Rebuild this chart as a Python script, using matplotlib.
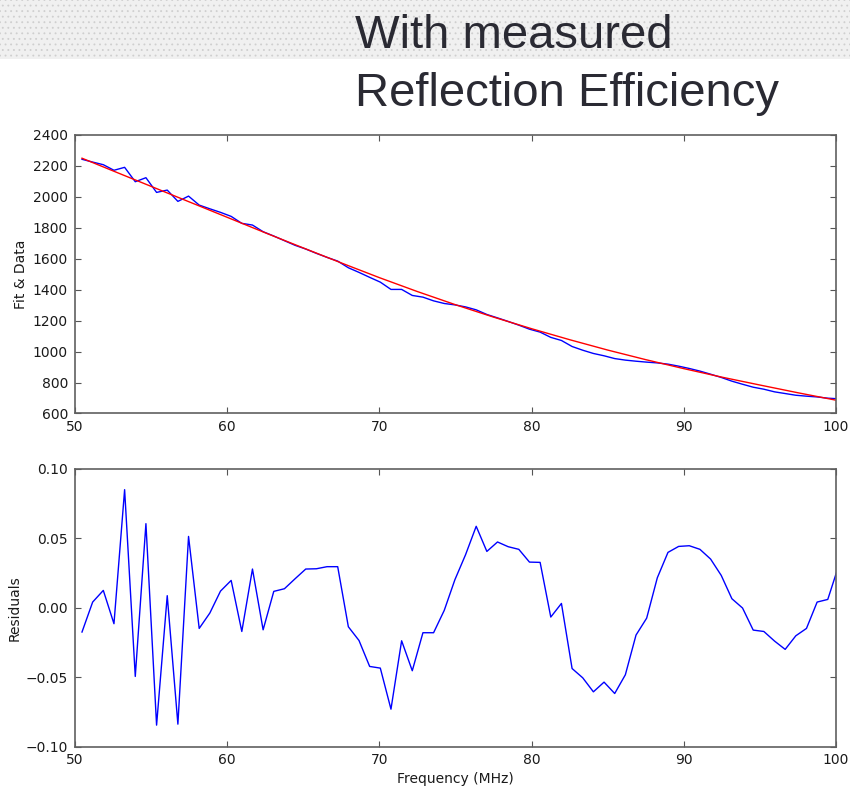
import matplotlib
matplotlib.use("Agg")
import matplotlib.pyplot as plt
from matplotlib.patches import Rectangle

# ---------------- data ----------------
freq_mhz = [
    50.46, 51.16, 51.86, 52.56, 53.26, 53.96, 54.66, 55.36, 56.06, 56.76,
    57.46, 58.16, 58.86, 59.56, 60.26, 60.96, 61.66, 62.36, 63.06, 63.76,
    64.46, 65.16, 65.86, 66.56, 67.26, 67.96, 68.66, 69.36, 70.06, 70.76,
    71.46, 72.16, 72.86, 73.56, 74.26, 74.96, 75.66, 76.36, 77.06, 77.76,
    78.46, 79.16, 79.86, 80.56, 81.26, 81.96, 82.66, 83.36, 84.06, 84.76,
    85.46, 86.16, 86.86, 87.56, 88.26, 88.96, 89.66, 90.36, 91.06, 91.76,
    92.46, 93.16, 93.86, 94.56, 95.26, 95.96, 96.66, 97.36, 98.06, 98.76,
    99.46, 100.16,
]

data_values = [
    2243, 2225, 2208, 2172, 2191, 2098, 2124, 2029, 2044, 1971,
    2005, 1947, 1923, 1900, 1874, 1829, 1818, 1775, 1747, 1717,
    1687, 1663, 1635, 1609, 1585, 1542, 1512, 1480, 1449, 1402,
    1402, 1363, 1352, 1328, 1311, 1302, 1289, 1270, 1240, 1218,
    1195, 1171, 1145, 1126, 1092, 1072, 1033, 1009, 988, 973,
    955, 945, 938, 932, 927, 919, 906, 891, 874, 854,
    833, 809, 789, 770, 757, 740, 729, 718, 712, 707,
    699, 695,
]

fit_freq = [50.46, 52.5, 55.0, 57.5, 60.0, 62.5, 65.0, 67.5, 70.0, 72.5, 75.0,
            77.5, 80.0, 82.5, 85.0, 87.5, 90.0, 92.5, 95.0, 97.5, 100.16]
fit_values = [2250, 2168, 2068, 1968, 1868, 1768, 1670, 1573, 1478, 1388, 1303,
              1223, 1148, 1077, 1010, 948, 890, 835, 784, 734, 683]

residuals = [
    -0.0175, 0.0041, 0.0125, -0.0115, 0.0851, -0.0495, 0.0606, -0.0846, 0.0087, -0.0839,
    0.0514, -0.0149, -0.0038, 0.0120, 0.0197, -0.0171, 0.0279, -0.0159, 0.0118, 0.0137,
    0.0209, 0.0279, 0.0281, 0.0296, 0.0296, -0.0137, -0.0236, -0.0423, -0.0435, -0.0731,
    -0.0238, -0.0454, -0.0180, -0.0180, -0.0019, 0.0202, 0.0382, 0.0587, 0.0406, 0.0474,
    0.0440, 0.0421, 0.0329, 0.0327, -0.0067, 0.0031, -0.0438, -0.0505, -0.0606, -0.0536,
    -0.0618, -0.0483, -0.0197, -0.0075, 0.0216, 0.0399, 0.0442, 0.0447, 0.0421, 0.0351,
    0.0233, 0.0065, -0.0002, -0.0161, -0.0171, -0.0240, -0.0300, -0.0202, -0.0149, 0.0041,
    0.0060, 0.0298,
]

top_yticks = [600, 800, 1000, 1200, 1400, 1600, 1800, 2000, 2200, 2400]
bottom_yticks = [-0.10, -0.05, 0.00, 0.05, 0.10]
xticks = [50, 60, 70, 80, 90, 100]

title_line1 = "With measured"
title_line2 = "Reflection Efficiency"

# ---------------- figure ----------------
W, H = 850, 788
fig = plt.figure(figsize=(W / 100, H / 100), dpi=100)
fig.patch.set_facecolor("white")

# textured header band
plt.rcParams["hatch.linewidth"] = 0.6
band = Rectangle((0, 1 - 59 / H), 1, 59 / H, transform=fig.transFigure,
                 facecolor="#f0f0f0", edgecolor="#cfcfcf", hatch="...",
                 linewidth=0, zorder=0)
fig.patches.append(band)

title_kw = dict(family=["Liberation Sans", "DejaVu Sans"], fontsize=34,
                color="#2a2a33", ha="left", va="baseline")
fig.text(355 / W, 1 - 48 / H, title_line1, **title_kw)
fig.text(355 / W, 1 - 106 / H, title_line2, **title_kw)

left = 75 / W
width = 761 / W
ax1 = fig.add_axes([left, 1 - 413.5 / H, width, 278.5 / H])
ax2 = fig.add_axes([left, 1 - 746.5 / H, width, 277.5 / H])

ax1.plot(freq_mhz, data_values, color="#0000ff", lw=1.0)
ax1.plot(fit_freq, fit_values, color="#ff0000", lw=1.0)
ax2.plot(freq_mhz, residuals, color="#0000ff", lw=1.0)

ax1.set_xlim(50, 100)
ax1.set_ylim(600, 2400)
ax1.set_yticks(top_yticks)
ax2.set_xlim(50, 100)
ax2.set_ylim(-0.10, 0.10)
ax2.set_yticks(bottom_yticks)
ax2.set_yticklabels([f"{v:.2f}".replace("-", "\u2212") for v in bottom_yticks])

for ax in (ax1, ax2):
    ax.set_xticks(xticks)
    ax.tick_params(direction="in", length=4, width=0.8, top=True, right=True,
                   labelsize=10, colors="#555555", labelcolor="#1a1a1a", pad=5)
    for sp in ax.spines.values():
        sp.set_color("#606060")
        sp.set_linewidth(1.2)

ax1.set_ylabel("Fit & Data", fontsize=10, color="#1a1a1a")
ax1.yaxis.set_label_coords(-47 / 761, 0.5)
ax2.set_ylabel("Residuals", fontsize=10, color="#1a1a1a")
ax2.yaxis.set_label_coords(-53 / 761, 0.5)
ax2.set_xlabel("Frequency (MHz)", fontsize=10, color="#1a1a1a", labelpad=3)

fig.savefig("out.png", dpi=100)
